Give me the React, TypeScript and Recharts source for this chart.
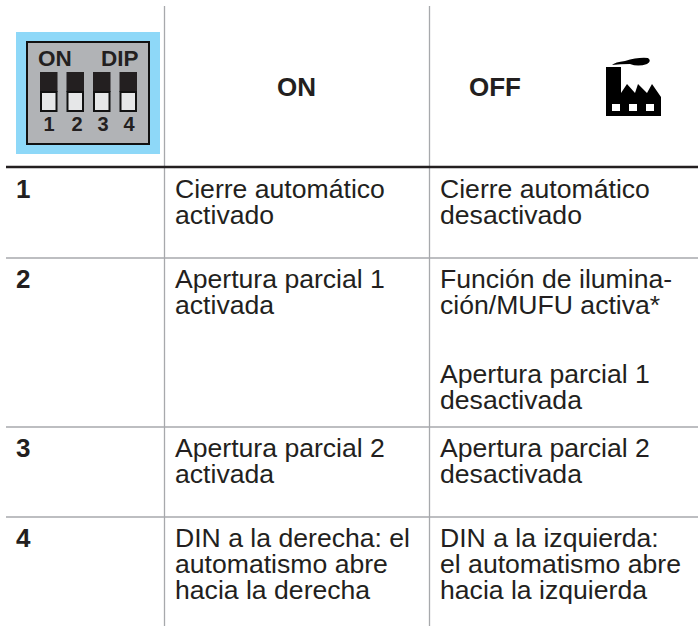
import { ComposedChart, Scatter, XAxis, YAxis, ReferenceLine } from "recharts";

const WIDTH = 698;
const HEIGHT = 626;

const HEADERS = ["ON", "OFF"];
const SWITCHES = ["1", "2", "3", "4"];
const ON_TEXT = [
  ["Cierre automático", "activado"],
  ["Apertura parcial 1", "activada"],
  ["Apertura parcial 2", "activada"],
  ["DIN a la derecha: el", "automatismo abre", "hacia la derecha"],
];
const OFF_TEXT = [
  ["Cierre automático", "desactivado"],
  ["Función de ilumina-", "ción/MUFU activa*"],
  ["Apertura parcial 2", "desactivada"],
  ["DIN a la izquierda:", "el automatismo abre", "hacia la izquierda"],
];
const OFF_NOTE = ["Apertura parcial 1", "desactivada"];

// layout of the table, in page pixels
const COL_RULES = [164.5, 429.5];
const ROW_RULES = [258, 427, 517];
const HEADER_RULE = 167;
const ROW_BASE = [198, 288, 457, 547];
const NOTE_BASE = 383;
const COL_TEXT = [16, 175, 440];
const HEADER_X = [296.5, 495];
const HEADER_Y = 96;
const INK = "#231f20";
const RULE = "#a7a9ac";
const FONT = "'Liberation Sans', Arial, sans-serif";

const cells = [
  ...SWITCHES.map((s, i) => ({ x: COL_TEXT[0], y: ROW_BASE[i], lines: [s], bold: true })),
  ...ON_TEXT.map((lines, i) => ({ x: COL_TEXT[1], y: ROW_BASE[i], lines, bold: false })),
  ...OFF_TEXT.map((lines, i) => ({ x: COL_TEXT[2], y: ROW_BASE[i], lines, bold: false })),
  { x: COL_TEXT[2], y: NOTE_BASE, lines: OFF_NOTE, bold: false },
  ...HEADERS.map((h, i) => ({ x: HEADER_X[i], y: HEADER_Y, lines: [h], bold: true, anchor: "middle" })),
];

function CellText(props: any) {
  const { cx, cy, payload } = props;
  return (
    <text
      x={cx}
      y={cy}
      fontFamily={FONT}
      fontSize={payload.bold ? 26 : 26.6}
      fontWeight={payload.bold ? 700 : 400}
      fill={INK}
      textAnchor={payload.anchor ?? "start"}
    >
      {payload.lines.map((line: string, i: number) => (
        <tspan key={i} x={cx} y={cy + i * 26.2}>
          {line}
        </tspan>
      ))}
    </text>
  );
}

function DipIcon(props: any) {
  const { cx, cy } = props;
  const xs = [40, 66.5, 93, 119.5];
  const numX = [49, 77, 103, 129];
  return (
    <g transform={`translate(${cx} ${cy})`} fontFamily={FONT} fontWeight={700} fill={INK}>
      <rect x={16} y={32} width={144} height={122} fill="#8ed8f8" />
      <rect x={27} y={42} width={122} height={102} fill="#b1b3b6" stroke="#111" strokeWidth={2} />
      <text x={38} y={66} fontSize={22.5}>ON</text>
      <text x={101} y={66} fontSize={22.5}>DIP</text>
      {xs.map((x, i) => (
        <g key={i}>
          <rect x={x} y={72} width={17.5} height={20} fill={INK} />
          <rect x={x + 1} y={92} width={15.5} height={19} fill="#e6e7e8" stroke="#111" strokeWidth={2} />
          <text x={numX[i]} y={131} fontSize={20} textAnchor="middle">
            {SWITCHES[i]}
          </text>
        </g>
      ))}
    </g>
  );
}

function FactoryIcon(props: any) {
  const { cx, cy } = props;
  return (
    <g transform={`translate(${cx} ${cy})`}>
      <path
        d="M606 67 H621 V93 L627 84 L635 93 L638 84 L647 93 L652 84 L661 97 V116 H606 Z"
        fill="#000"
      />
      <path d="M612 65 Q615 62 625 61 Q638 57 648 58 Q652 61 647 64 Q638 67 630 64 Q620 64 612 65 Z" fill="#000" />
      <rect x={612} y={104} width={8} height={7} fill="#fff" />
      <rect x={629} y={104} width={8} height={7} fill="#fff" />
      <rect x={646} y={104} width={8} height={7} fill="#fff" />
    </g>
  );
}

export default function App() {
  return (
    <div style={{ position: "absolute", left: 0, top: 0, width: WIDTH, height: HEIGHT }}>
      <ComposedChart
        width={WIDTH}
        height={HEIGHT}
        data={[]}
        margin={{ top: 0, right: 0, bottom: 0, left: 0 }}
      >
        <XAxis type="number" dataKey="x" domain={[0, WIDTH]} hide />
        <YAxis type="number" dataKey="y" domain={[0, HEIGHT]} reversed hide />
        {COL_RULES.map((x) => (
          <ReferenceLine key={x} segment={[{ x, y: 6 }, { x, y: HEIGHT }]} stroke={RULE} strokeWidth={1.3} />
        ))}
        {ROW_RULES.map((y) => (
          <ReferenceLine key={y} segment={[{ x: 6, y }, { x: WIDTH, y }]} stroke={RULE} strokeWidth={1.3} />
        ))}
        <ReferenceLine segment={[{ x: 6, y: HEADER_RULE }, { x: WIDTH, y: HEADER_RULE }]} stroke={INK} strokeWidth={2.4} />
        <Scatter data={cells} dataKey="y" shape={CellText} isAnimationActive={false} />
        <Scatter data={[{ x: 0, y: 0 }]} dataKey="y" shape={DipIcon} isAnimationActive={false} />
        <Scatter data={[{ x: 0, y: 0 }]} dataKey="y" shape={FactoryIcon} isAnimationActive={false} />
      </ComposedChart>
    </div>
  );
}
